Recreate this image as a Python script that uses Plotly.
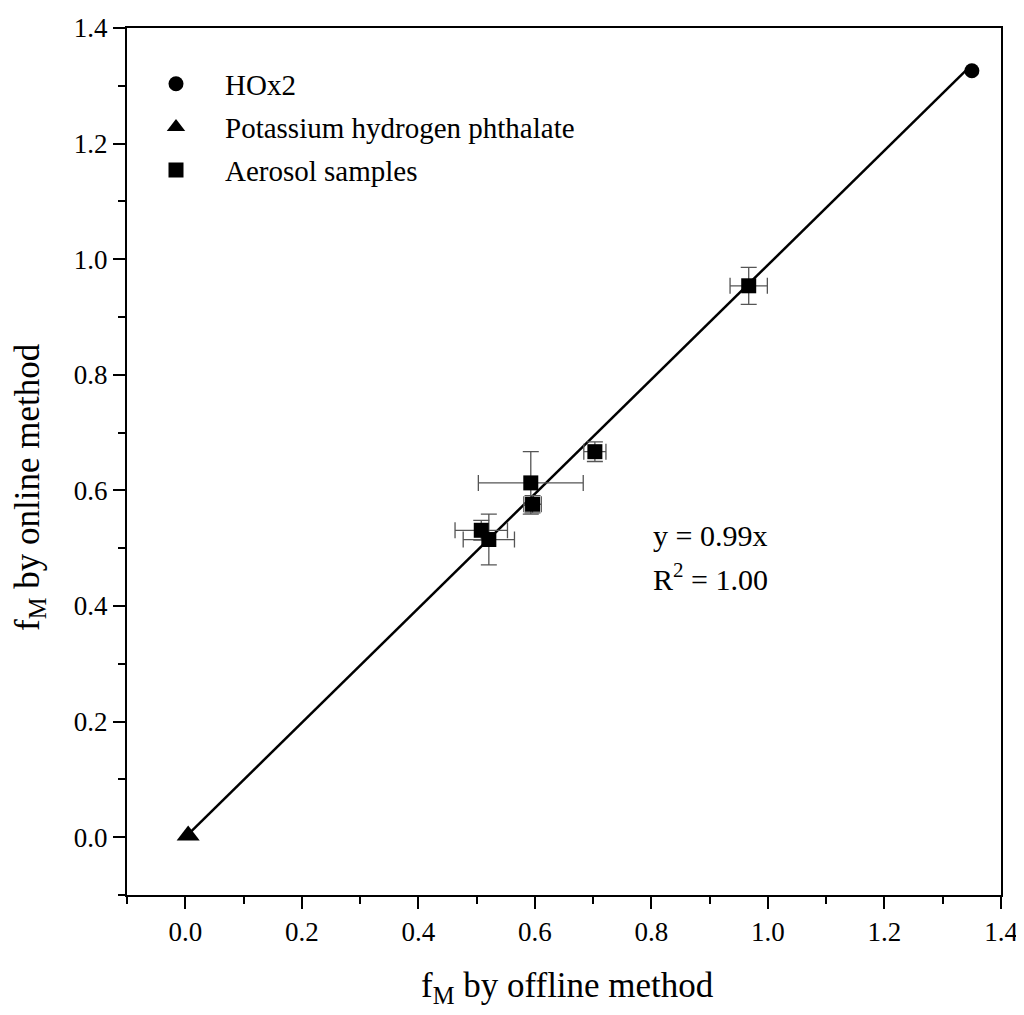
import plotly.graph_objects as go

# reference standards
hox2_x = [1.350]
hox2_y = [1.326]
khp_x = [0.005]
khp_y = [0.003]

# aerosol samples (offline vs online) with errors
aer_x = [0.967, 0.703, 0.593, 0.596, 0.508, 0.521]
aer_y = [0.954, 0.667, 0.613, 0.576, 0.531, 0.515]
aer_xerr = [0.032, 0.019, 0.090, 0.015, 0.045, 0.044]
aer_yerr = [0.032, 0.017, 0.054, 0.015, 0.017, 0.044]

slope = 0.99
r2 = 1.00

FONT = "Liberation Serif"

all_x = hox2_x + khp_x + aer_x
fit_x = [min(all_x), max(all_x)]
fit_y = [slope * v for v in fit_x]

fig = go.Figure()

fig.add_trace(go.Scatter(x=fit_x, y=fit_y, mode="lines",
                         line=dict(color="black", width=2.5),
                         showlegend=False, hoverinfo="skip"))

fig.add_trace(go.Scatter(x=hox2_x, y=hox2_y, mode="markers", name="HOx2",
                         legendgroup="a",
                         marker=dict(symbol="circle", size=15, color="black")))
fig.add_trace(go.Scatter(x=khp_x, y=khp_y, mode="markers",
                         name="Potassium hydrogen phthalate", legendgroup="b",
                         marker=dict(symbol="triangle-up", size=20, color="black")))
fig.add_trace(go.Scatter(x=aer_x, y=aer_y, mode="markers", name="Aerosol samples",
                         legendgroup="c",
                         marker=dict(symbol="square", size=15, color="black"),
                         error_x=dict(type="data", array=aer_xerr, color="#555555",
                                      thickness=1.3, width=8),
                         error_y=dict(type="data", array=aer_yerr, color="#555555",
                                      thickness=1.3, width=8)))

fig.add_annotation(x=0.80, y=0.522, xref="x", yref="y", xanchor="left",
                   text="y = %.2fx" % slope, showarrow=False,
                   font=dict(family=FONT, size=30, color="black"))
fig.add_annotation(x=0.80, y=0.450, xref="x", yref="y", xanchor="left",
                   text="R<sup>2</sup> = %.2f" % r2, showarrow=False,
                   font=dict(family=FONT, size=30, color="black"))

# axis titles
fig.add_annotation(x=0.5045, y=-0.107, xref="paper", yref="paper",
                   xanchor="center", yanchor="middle", showarrow=False,
                   text="f<sub>M</sub> by offline method",
                   font=dict(family=FONT, size=35, color="black"))
fig.add_annotation(x=-0.111, y=0.4706, xref="paper", yref="paper",
                   xanchor="center", yanchor="middle", showarrow=False,
                   textangle=-90, text="f<sub>M</sub> by online method",
                   font=dict(family=FONT, size=35, color="black"))

axis_common = dict(
    range=[-0.1, 1.4], dtick=0.2, tick0=0, tickformat=".1f",
    showgrid=False, zeroline=False, automargin=False,
    showline=True, linecolor="black", linewidth=2, mirror=True,
    ticks="outside", ticklen=12, tickwidth=2, tickcolor="black",
    minor=dict(dtick=0.1, ticks="outside", ticklen=7, tickwidth=2, tickcolor="black"),
    tickfont=dict(family=FONT, size=27, color="black"),
)

fig.update_xaxes(**axis_common)
fig.update_yaxes(**axis_common)

# the page adds an 8px body margin, so margins are trimmed to land the axes
fig.update_layout(
    width=1024, height=1015,
    margin=dict(l=119, r=31, t=20, b=128),
    paper_bgcolor="white", plot_bgcolor="white",
    font=dict(family=FONT, color="black"),
    legend=dict(x=0.0, y=0.965, xanchor="left", yanchor="top",
                bgcolor="rgba(0,0,0,0)", itemwidth=88,
                font=dict(family=FONT, size=29, color="black"),
                tracegroupgap=2.5),
)

fig.write_html("out.html")
